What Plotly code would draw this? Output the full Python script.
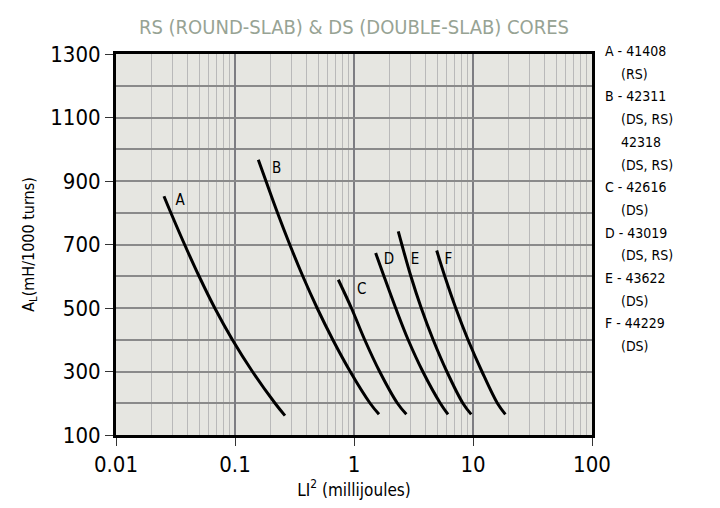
import plotly.graph_objects as go

# A_L versus LI^2 curves for each core size
curve_names = ["A", "B", "C", "D", "E", "F"]
a_x = [0.0253, 0.0289, 0.0377, 0.0499, 0.0676, 0.0951, 0.140, 0.217, 0.263]
a_y = [852, 800, 700, 600, 500, 400, 300, 200, 161]
b_x = [0.157, 0.182, 0.2275, 0.2884, 0.3715, 0.4898, 0.6637, 0.929, 1.365, 1.622]
b_y = [967, 900, 800, 700, 600, 500, 400, 300, 200, 165]
c_x = [0.738, 0.951, 1.230, 1.641, 2.317, 2.754]
c_y = [589, 500, 400, 300, 200, 165]
d_x = [1.521, 1.786, 2.239, 2.851, 3.784, 5.309, 6.166]
d_y = [673, 600, 500, 400, 300, 200, 165]
e_x = [2.355, 2.523, 3.006, 3.673, 4.624, 6.026, 8.222, 9.661]
e_y = [741, 700, 600, 500, 400, 300, 200, 165]
f_x = [4.955, 5.794, 7.161, 9.078, 11.885, 16.03, 18.71]
f_y = [681, 600, 500, 400, 300, 200, 165]

# where each curve letter sits
label_x = [0.0345, 0.224, 1.16, 1.97, 3.26, 6.2]
label_y = [836, 938, 557, 650, 650, 650]

# part-number key on the right
key_lines = [
    ("A - 41408", False), ("(RS)", True),
    ("B - 42311", False), ("(DS, RS)", True),
    ("42318", True), ("(DS, RS)", True),
    ("C - 42616", False), ("(DS)", True),
    ("D - 43019", False), ("(DS, RS)", True),
    ("E - 43622", False), ("(DS)", True),
    ("F - 44229", False), ("(DS)", True),
]

x_ticks = [0.01, 0.1, 1, 10, 100]
x_tick_text = ["0.01", "0.1", "1", "10", "100"]
y_ticks = [100, 300, 500, 700, 900, 1100, 1300]

FONT = "DejaVu Sans Condensed, Liberation Sans Narrow, sans-serif"

fig = go.Figure()
for xs, ys in [(a_x, a_y), (b_x, b_y), (c_x, c_y), (d_x, d_y), (e_x, e_y), (f_x, f_y)]:
    fig.add_trace(go.Scatter(
        x=xs, y=ys, mode="lines",
        line=dict(color="black", width=3, shape="spline", smoothing=1.0),
        hoverinfo="skip", showlegend=False,
    ))

fig.add_trace(go.Scatter(
    x=label_x, y=label_y, mode="text", text=curve_names,
    textfont=dict(family=FONT, size=15, color="black"),
    textposition="middle center", hoverinfo="skip", showlegend=False,
))

line_step = 22.7  # px between key lines
plot_h = 381
for i, (txt, indent) in enumerate(key_lines):
    fig.add_annotation(
        text=txt, xref="paper", yref="paper",
        x=1.0225 + (0.035 if indent else 0.0),
        y=1.0077 - i * line_step / plot_h,
        xanchor="left", yanchor="middle", showarrow=False,
        font=dict(family=FONT, size=14, color="black"),
    )

fig.update_layout(
    width=720, height=508,
    margin=dict(l=116, r=128, t=54, b=73),
    paper_bgcolor="white",
    plot_bgcolor="#e6e6e1",
    title=dict(
        text="RS (ROUND-SLAB) & DS (DOUBLE-SLAB) CORES",
        x=(116 + 592) / 2 / 720, xanchor="center",
        y=1 - 27 / 508, yanchor="middle",
        font=dict(family=FONT, size=20, color="#97a394"),
    ),
    font=dict(family=FONT, color="black"),
)

fig.update_xaxes(
    type="log", range=[-2, 2],
    tickvals=x_ticks, ticktext=x_tick_text,
    tickfont=dict(family=FONT, size=22, color="black"),
    ticks="outside", ticklen=8, tickwidth=1, tickcolor="#333333",
    showgrid=True, gridcolor="#7d7d82", gridwidth=1.5,
    minor=dict(dtick="D1", showgrid=True, gridcolor="#b9b9b9", gridwidth=1.2, ticks=""),
    showline=True, linecolor="black", linewidth=3, mirror=True,
    title=dict(text="LI<sup>2</sup> (millijoules)", font=dict(family=FONT, size=17, color="black"), standoff=6),
    zeroline=False,
)
fig.update_yaxes(
    range=[100, 1300],
    tickvals=y_ticks,
    tickfont=dict(family=FONT, size=22, color="black"),
    ticks="outside", ticklen=8, tickwidth=1, tickcolor="#333333",
    showgrid=True, gridcolor="#8a8a8a", gridwidth=1.5,
    minor=dict(dtick=100, tick0=100, showgrid=True, gridcolor="#8a8a8a", gridwidth=1.5, ticks=""),
    showline=True, linecolor="black", linewidth=3, mirror=True,
    title=dict(text="A<sub>L</sub>(mH/1000 turns)", font=dict(family=FONT, size=16, color="black"), standoff=12),
    zeroline=False,
)

fig.write_html("out.html")
